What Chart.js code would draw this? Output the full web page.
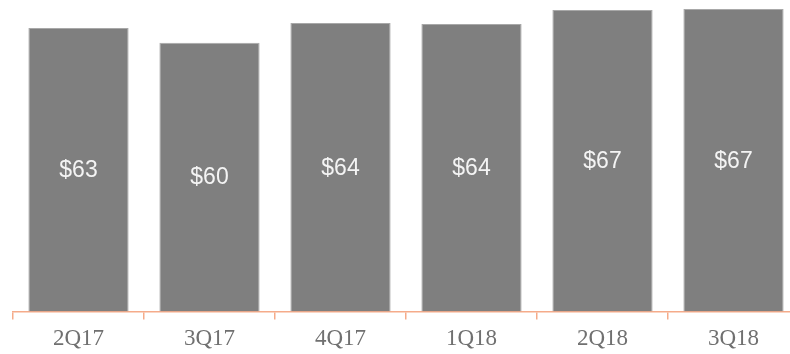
<!DOCTYPE html>
<html>
<head>
<meta charset="utf-8">
<script src="https://cdn.jsdelivr.net/npm/chart.js@4/dist/chart.umd.min.js"></script>
<style>
  html, body { margin: 0; padding: 0; background: #fff; overflow: hidden; }
  #wrap { width: 800px; height: 354px; position: relative; }
</style>
</head>
<body>
<div id="wrap"><canvas id="chart"></canvas></div>
<script>
// ===== データ =====
const quarters = ['2Q17', '3Q17', '4Q17', '1Q18', '2Q18', '3Q18'];
const revenue = [63.0, 59.7, 64.1, 63.9, 67.0, 67.2];

// バー中央に値ラベル
const barLabels = {
  id: 'barLabels',
  afterDatasetsDraw(chart) {
    const ctx = chart.ctx;
    const meta = chart.getDatasetMeta(0);
    ctx.save();
    ctx.fillStyle = '#f4f4f4';
    ctx.font = '23px "Liberation Sans", Arial, sans-serif';
    ctx.textAlign = 'center';
    ctx.textBaseline = 'middle';
    meta.data.forEach((bar, i) => {
      const { x, y, base } = bar.getProps(['x', 'y', 'base'], true);
      ctx.fillText('$' + Math.round(revenue[i]), x, (y + base) / 2 + 1);
    });
    ctx.restore();
  }
};

new Chart(document.getElementById('chart'), {
  type: 'bar',
  data: {
    labels: quarters,
    datasets: [{
      data: revenue,
      backgroundColor: '#7f7f7f',
      borderColor: '#a8a8a8',
      borderWidth: 1,
      barPercentage: 0.765,
      categoryPercentage: 1
    }]
  },
  options: {
    responsive: true,
    maintainAspectRatio: false,
    animation: false,
    layout: { padding: { left: 13, right: 1, top: 1, bottom: -5 } },
    plugins: { legend: { display: false }, tooltip: { enabled: false } },
    scales: {
      x: {
        offset: true,
        grid: { display: true, offset: true, drawOnChartArea: false, drawTicks: true, tickLength: 8, color: '#f5ab8a', lineWidth: 1.5 },
        border: { display: true, color: '#f5ab8a', width: 1.5 },
        ticks: { color: '#707070', padding: 6, font: { family: '"Liberation Serif", serif', size: 23 } }
      },
      y: { display: false, min: 0, max: 69 }
    }
  },
  plugins: [barLabels]
});
</script>
</body>
</html>
